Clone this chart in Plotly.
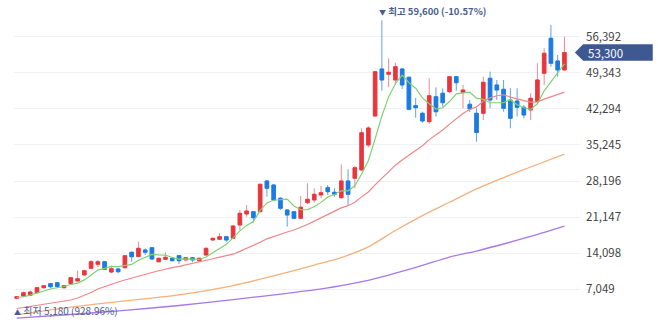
import pandas as pd
import plotly.graph_objects as go

# Weekly OHLC prices (KRW)
opens = [5290, 5740, 5840, 6390, 7360, 8150, 8340, 7360, 8150, 8670,
         9850, 11150, 11940, 12440, 10430, 11020, 11270, 14280, 13460, 14730,
         15180, 12440, 12910, 13110, 13620, 12780, 13230, 12640, 13750, 16680,
         16820, 17330, 17010, 19610, 21760, 22210, 22210, 28210, 27430, 24830,
         22540, 22210, 20920, 23970, 24500, 25470, 26900, 26000, 24950, 28210,
         28730, 30360, 35240, 40900, 50090, 49050, 47940, 50090, 48460, 42920,
         41430, 39790, 44670, 45340, 45650, 48580, 45530, 43190, 41430, 41430,
         48270, 46960, 46120, 44030, 43830, 42600, 42080, 43700, 49250, 56080,
         51650, 49890]
highs = [5740, 6620, 6820, 7600, 7890, 8280, 8480, 7850, 9450, 10690,
         10850, 12830, 12780, 12600, 11660, 11150, 13750, 14400, 16350, 15060,
         15300, 13250, 14280, 13250, 13750, 13350, 13350, 13250, 15250, 17150,
         17990, 17450, 19550, 22540, 23520, 22350, 27700, 28350, 27550, 25020,
         22700, 22350, 25280, 27760, 26780, 27230, 27430, 26780, 31470, 30490,
         31140, 38500, 38950, 49700, 59600, 52180, 51320, 50220, 48600, 44420,
         41750, 48270, 46510, 46320, 48720, 48720, 46960, 44030, 42410, 48580,
         49560, 47940, 47940, 46320, 46320, 43050, 45340, 51200, 54130, 58680,
         52820, 56390]
lows = [5180, 5550, 5650, 6230, 7210, 7270, 7400, 7250, 8050, 8550,
        9750, 11000, 11410, 10850, 10180, 10180, 11150, 12440, 13300, 13750,
        12850, 12300, 12800, 12500, 11990, 12650, 12390, 12450, 13650, 16550,
        16700, 16350, 16900, 18640, 21230, 20060, 22050, 25140, 24350, 22540,
        19280, 20750, 20750, 23710, 23970, 24830, 25470, 25140, 24800, 23380,
        26780, 30200, 34790, 40750, 45850, 46510, 46960, 46180, 42050, 40570,
        39600, 39340, 40770, 42720, 45340, 45850, 42410, 41690, 35880, 40120,
        42410, 44030, 41740, 38500, 40770, 40460, 40120, 43550, 46960, 50530,
        48580, 49890]
closes = [5610, 6390, 6520, 7360, 7760, 7560, 7560, 7760, 9320, 9120,
          10690, 12440, 12440, 10960, 11080, 10490, 13620, 13420, 15060, 14280,
          12970, 13110, 13300, 12640, 12640, 13230, 12780, 13110, 15060, 17010,
          17330, 16680, 19420, 21900, 22350, 21040, 27560, 26780, 24500, 22870,
          21570, 20920, 23070, 24630, 25610, 25920, 26120, 25610, 28210, 25610,
          30810, 37640, 38560, 49560, 47940, 49440, 50530, 46960, 42210, 42530,
          39930, 44870, 41740, 43500, 48580, 47410, 45980, 42270, 37680, 47490,
          44030, 45980, 42410, 40460, 42600, 41100, 44360, 47940, 53150, 51200,
          49890, 53300]

# Moving-average values on the first weeks (their windows reach back before week 0)
ma5_head = [5450, 5600, 5900, 6250]
ma20_head = [3300, 3500, 3690, 3930, 4080, 4280, 4470, 4670, 4960, 5350,
             5840, 6430, 7110, 7600, 8090, 8480, 8870, 9200, 9550]

# 60- and 120-week moving averages at selected weeks
ma_long_idx = [0, 8, 16, 24, 32, 40, 44, 48, 52, 56, 60, 64, 68, 72, 76, 81]
ma60_vals = [2090, 3580, 4790, 5980, 7790, 10350, 11780, 13260, 15330, 18540,
             21450, 24050, 26660, 28870, 30940, 33440]
ma120_vals = [1410, 2130, 2930, 3890, 5040, 6270, 6920, 7790, 8790, 10200,
              11720, 13340, 14530, 15900, 17370, 19400]

# Price-axis ticks
tick_step = 7049
tick_vals = [tick_step * k for k in range(1, 9)]

# Axis ranges
y_range = [-1680, 63560]
x_range = [-0.4, 83.3]

UP = "#e8363c"
DOWN = "#1c7be2"
UP_WICK = "#f08a8d"
DOWN_WICK = "#5fa0ea"
NAVY = "#3e5892"
LABEL = "#4c5e8e"
FONT = "Noto Sans CJK KR"

x = list(range(len(closes)))
cl = pd.Series(closes, dtype=float)
ma5 = cl.rolling(5).mean()
ma5.iloc[:len(ma5_head)] = ma5_head
ma20 = cl.rolling(20).mean()
ma20.iloc[:len(ma20_head)] = ma20_head

body_hi = [max(o, c) for o, c in zip(opens, closes)]
body_lo = [min(o, c) for o, c in zip(opens, closes)]

fig = go.Figure()

# long averages (drawn beneath the candles)
fig.add_trace(go.Scatter(x=ma_long_idx, y=ma120_vals, mode="lines",
                         line=dict(color="#a678ea", width=1.3, shape="spline", smoothing=0.6)))
fig.add_trace(go.Scatter(x=ma_long_idx, y=ma60_vals, mode="lines",
                         line=dict(color="#f6b07b", width=1.3, shape="spline", smoothing=0.6)))
fig.add_trace(go.Scatter(x=x, y=ma20, mode="lines",
                         line=dict(color="#f08686", width=1.2)))

# wicks
fig.add_trace(go.Candlestick(
    x=x, open=opens, high=highs, low=lows, close=closes,
    increasing=dict(line=dict(color=UP_WICK, width=1), fillcolor=UP_WICK),
    decreasing=dict(line=dict(color=DOWN_WICK, width=1), fillcolor=DOWN_WICK),
    whiskerwidth=0,
))
# bodies
fig.add_trace(go.Candlestick(
    x=x, open=opens, high=body_hi, low=body_lo, close=closes,
    increasing=dict(line=dict(color=UP, width=0.8), fillcolor=UP),
    decreasing=dict(line=dict(color=DOWN, width=0.8), fillcolor=DOWN),
    whiskerwidth=0,
))

fig.add_trace(go.Scatter(x=x, y=ma5, mode="lines",
                         line=dict(color="#7dd272", width=1.2)))

# highest / lowest markers
i_hi = highs.index(max(highs))
i_lo = lows.index(min(lows))
last = closes[-1]
hi_pct = (last / highs[i_hi] - 1) * 100
lo_pct = (last / lows[i_lo] - 1) * 100

fig.add_annotation(x=i_hi, y=highs[i_hi], xref="x", yref="y",
                   text=f"<span style='font-size:7px'>▼</span> 최고 {highs[i_hi]:,} ({hi_pct:.2f}%)",
                   showarrow=False, xanchor="left", yanchor="bottom", xshift=-5, yshift=0,
                   font=dict(family=FONT, size=9.5, color=LABEL, weight=600))
fig.add_annotation(x=i_lo, y=lows[i_lo], xref="x", yref="y",
                   text=f"<span style='font-size:7px'>▲</span> 최저 {lows[i_lo]:,} ({lo_pct:.2f}%)",
                   showarrow=False, xanchor="left", yanchor="top", xshift=-5, yshift=-2,
                   font=dict(family=FONT, size=10, color=LABEL))

# current-price tag on the price axis
py = (last - y_range[0]) / (y_range[1] - y_range[0])
hh = 0.0245
tip, box_l, box_r = 0.991, 1.0055, 1.1285
fig.add_shape(type="path", xref="paper", yref="paper", layer="above",
              path=(f"M {tip},{py} L {box_l},{py + hh} L {box_r},{py + hh} "
                    f"L {box_r},{py - hh} L {box_l},{py - hh} Z"),
              fillcolor=NAVY, line=dict(width=0))
fig.add_annotation(x=1.0106, y=last, xref="paper", yref="y", text=f"{last:,}",
                   showarrow=False, xanchor="left", yanchor="middle",
                   font=dict(family=FONT, size=11.5, color="white"))

fig.update_layout(
    width=658, height=334,
    margin=dict(l=14, r=78, t=0, b=0),
    paper_bgcolor="white", plot_bgcolor="white",
    showlegend=False, hovermode=False, boxgap=0.25,
    xaxis=dict(range=x_range, visible=False, rangeslider=dict(visible=False), fixedrange=True),
    yaxis=dict(range=y_range, side="right", tickvals=tick_vals, tickformat=",",
               showgrid=True, gridcolor="#eef1f5", gridwidth=1, zeroline=False,
               showline=False, ticks="", ticklabelstandoff=5,
               tickfont=dict(family=FONT, size=11.5, color="#444444")),
)

fig.write_html("out.html")
